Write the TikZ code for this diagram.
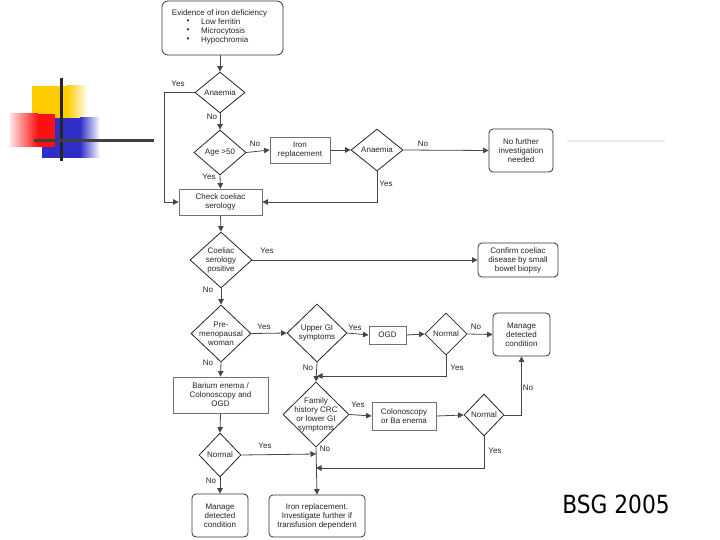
\documentclass[tikz,border=0pt]{standalone}
\usepackage{fontspec}
\setmainfont{Liberation Sans}
\newfontfamily\bsgfont{DejaVu Sans}
\usetikzlibrary{shapes.geometric,arrows.meta}
\definecolor{decoyellow}{HTML}{FFCC00}
\definecolor{decored}{HTML}{FF1010}
\definecolor{decoblue}{HTML}{2F2FC8}
\tikzset{
  every node/.style={font=\fontsize{8}{9}\selectfont, text=black!85},
  dia/.style={diamond, draw=black!85, line width=0.8pt, inner sep=0pt},
  sq/.style={rectangle, draw=black!55, line width=0.8pt, align=center, inner sep=0pt},
  rbox/.style={rectangle, rounded corners=4pt, draw=black!80, line width=0.8pt, align=center, inner sep=0pt},
  conn/.style={draw=black!72, line width=0.8pt, -{Triangle[length=5.5pt,width=5.5pt]}},
  lbl/.style={inner sep=0pt},
  txt/.style={align=center, inner sep=0pt},
}
\begin{document}
\begin{tikzpicture}[x=1pt,y=-1pt]
\fill[white] (0,0) rectangle (720,540);
\useasboundingbox (0,0) rectangle (720,540);

% slide decoration
\fill[decoyellow] (32,86) rectangle (67,120);
\shade[left color=decoyellow, right color=white] (67,86) rectangle (88,120);
\fill[decoblue] (42,118) rectangle (80,158);
\shade[left color=decoblue, right color=white] (80,118) rectangle (100,158);
\shade[left color=decored!12, right color=decored] (10,114) rectangle (38,147);
\fill[decored] (38,114) rectangle (55,147);
\draw[line width=3pt, black!85] (61,78) -- (61,161);
\draw[line width=3pt, black!75] (34,141) -- (154,141);
\draw[line width=1.5pt, black!8] (567,141) -- (665,141);

% top box
\node[rbox, rounded corners=6pt, minimum width=121pt, minimum height=54pt] (top) at (222.5,28) {};
\node[txt] (toptitle) at (219.5,13) {Evidence of iron deficiency};
\node[lbl] (b1) at (188,22) {\textbullet};
\node[lbl] (b2) at (188,31) {\textbullet};
\node[lbl] (b3) at (188,40) {\textbullet};
\node[lbl, anchor=west] (i1) at (201,22) {Low ferritin};
\node[lbl, anchor=west] (i2) at (201,31) {Microcytosis};
\node[lbl, anchor=west] (i3) at (201,40) {Hypochromia};

% diamonds
\node[dia, minimum width=50pt, minimum height=41pt] (d1) at (220,92.5) {};
\node[txt] (d1t) at (d1) {Anaemia};
\node[dia, minimum width=52pt, minimum height=45pt] (d2) at (220,152.5) {};
\node[txt] (d2t) at (d2) {Age >50};
\node[dia, minimum width=52pt, minimum height=42pt] (d3) at (377,150) {};
\node[txt] (d3t) at (d3) {Anaemia};
\node[dia, minimum width=62pt, minimum height=56pt] (d4) at (221,260) {};
\node[txt] (d4t) at (d4) {Coeliac\\serology\\positive};
\node[dia, minimum width=60pt, minimum height=57pt] (d5) at (221,333.5) {};
\node[txt] (d5t) at (d5) {Pre-\\menopausal\\woman};
\node[dia, minimum width=60pt, minimum height=58pt] (d6) at (317,333) {};
\node[txt] (d6t) at (d6) {Upper GI\\symptoms};
\node[dia, minimum width=42pt, minimum height=42pt] (d7) at (446,334) {};
\node[txt] (d7t) at (d7) {Normal};
\node[dia, minimum width=66pt, minimum height=65pt] (d8) at (316,414.5) {};
\node[txt] (d8t) at (d8) {Family\\history CRC\\or lower GI\\symptoms};
\node[dia, minimum width=40pt, minimum height=42pt] (d9) at (484,415) {};
\node[txt] (d9t) at (d9) {Normal};
\node[dia, minimum width=42pt, minimum height=44pt] (d10) at (220,455) {};
\node[txt] (d10t) at (d10) {Normal};

% boxes
\node[sq, minimum width=60pt, minimum height=26pt] (iron) at (300,150) {Iron\\replacement};
\node[rbox, minimum width=64pt, minimum height=43pt] (nofurther) at (521,150.5) {No further\\investigation\\needed};
\node[sq, minimum width=83pt, minimum height=26pt] (check) at (220.5,202) {Check coeliac\\serology};
\node[rbox, minimum width=80pt, minimum height=34pt] (confirm) at (518,260) {Confirm coeliac\\disease by small\\bowel biopsy};
\node[sq, minimum width=37pt, minimum height=18pt] (ogd) at (387.5,335) {OGD};
\node[rbox, minimum width=57pt, minimum height=43pt] (manage1) at (521.5,334.5) {Manage\\detected\\condition};
\node[sq, minimum width=95pt, minimum height=36pt] (barium) at (220.5,395) {Barium enema /\\Colonoscopy and\\OGD};
\node[sq, minimum width=64pt, minimum height=28pt] (colon) at (404,416) {Colonoscopy\\or Ba enema};
\node[rbox, minimum width=56pt, minimum height=43pt] (manage2) at (220,515.5) {Manage\\detected\\condition};
\node[rbox, minimum width=96pt, minimum height=42pt] (ironfinal) at (317,516) {Iron replacement.\\Investigate further if\\transfusion dependent};

% junction coordinates
\coordinate (j1) at (317,376);
\coordinate (j2) at (316,454);
\coordinate (j3) at (316,468);

% connectors
\draw[conn] (d1 |- top.south) -- (d1.north);
\draw[conn] (d1.west) -- ++(-30,0) |- (check.west);
\draw[conn] (d1.south) -- (d2.north);
\draw[conn] (d2.east) -- (iron.west);
\draw[conn] (iron.east) -- (d3.west);
\draw[conn] (d3.east) -- (nofurther.west);
\draw[conn] (d3.south) |- (check.east);
\draw[conn] (d2.south) -- (check.north);
\draw[conn] (check.south) -- (d4.north);
\draw[conn] (d4.east) -- (confirm.west);
\draw[conn] (d4.south) -- (d5.north);
\draw[conn] (d5.east) -- (d6.west);
\draw[conn] (d6.east) -- (ogd.west);
\draw[conn] (ogd.east) -- (d7.west);
\draw[conn] (d7.east) -- (manage1.west);
\draw[conn] (d7.south) |- (j1);
\draw[conn] (d6.south) -- (d8.north);
\draw[conn] (d8.east) -- (colon.west);
\draw[conn] (colon.east) -- (d9.west);
\draw[conn] (d9.east) -| (manage1.south);
\draw[conn] (d9.south) |- (j3);
\draw[conn] (d8.south) -- (ironfinal.north);
\draw[conn] (d10.east) -- (j2);
\draw[conn] (d5.south) -- (barium.north);
\draw[conn] (barium.south) -- (d10.north);
\draw[conn] (d10.south) -- (manage2.north);

% labels
\node[lbl] (l1) at (178,84) {Yes};
\node[lbl] (l2) at (212,117) {No};
\node[lbl] (l3) at (255,144) {No};
\node[lbl] (l4) at (423,144) {No};
\node[lbl] (l5) at (386,184) {Yes};
\node[lbl] (l6) at (209,177) {Yes};
\node[lbl] (l7) at (267,251) {Yes};
\node[lbl] (l8) at (208,290) {No};
\node[lbl] (l9) at (264,327) {Yes};
\node[lbl] (l10) at (355,328) {Yes};
\node[lbl] (l11) at (476,327) {No};
\node[lbl] (l12) at (457,368) {Yes};
\node[lbl] (l13) at (308,368) {No};
\node[lbl] (l14) at (358,405) {Yes};
\node[lbl] (l15) at (528,388) {No};
\node[lbl] (l16) at (495,451) {Yes};
\node[lbl] (l17) at (325,449) {No};
\node[lbl] (l18) at (265,446) {Yes};
\node[lbl] (l19) at (208,363) {No};
\node[lbl] (l20) at (211,481) {No};

\node[inner sep=0pt, font=\bsgfont\fontsize{25}{28}\selectfont, text=black] (bsg) at (616,504) {\scalebox{0.87}[1]{BSG 2005}};
\end{tikzpicture}
\end{document}
